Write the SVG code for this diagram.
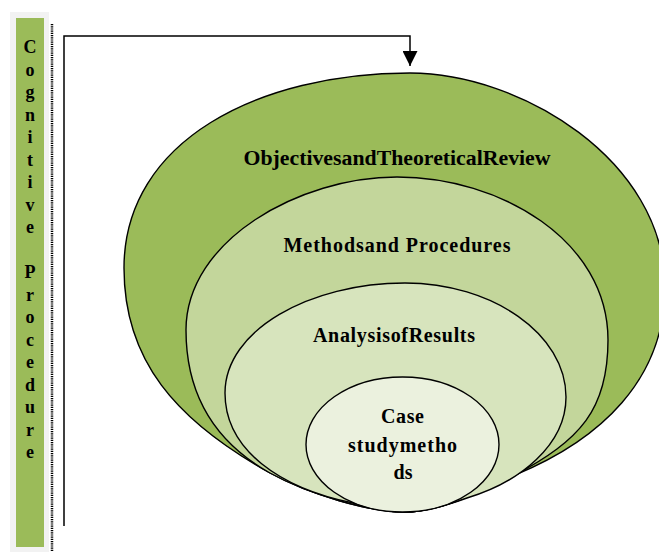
<svg xmlns="http://www.w3.org/2000/svg" width="659" height="552" viewBox="0 0 659 552">
<defs>
<style>
.shape{stroke:#000;stroke-width:1.4;stroke-linejoin:round}
.lbl{font-family:"Liberation Serif","Times New Roman",serif;font-weight:bold;font-size:20px;fill:#000;text-anchor:middle}
.bar{font-family:"Liberation Serif","Times New Roman",serif;font-weight:bold;font-size:18px;fill:#000;text-anchor:middle}
.conn{fill:none;stroke:#000;stroke-width:1.5}
</style>
<marker id="arrow" viewBox="0 0 10 10" refX="10" refY="5" markerWidth="15" markerHeight="15" markerUnits="userSpaceOnUse" orient="auto">
<path d="M0,0 L10,5 L0,10 Z" fill="#000"/>
</marker>
</defs>
<rect width="659" height="552" fill="#fff"/>
<g id="sidebar">
<rect x="10" y="12" width="39" height="540" fill="#F2F2F2"/>
<rect x="16" y="18" width="28" height="529" fill="#9BBB59"/>
<line x1="52" y1="24" x2="52" y2="552" stroke="#000" stroke-width="2.5" stroke-dasharray="1.2,1"/>
<text class="bar">
<tspan x="30" y="53">C</tspan><tspan x="30" y="75.5">o</tspan><tspan x="30" y="98">g</tspan><tspan x="30" y="120.5">n</tspan><tspan x="30" y="143">i</tspan><tspan x="30" y="165.5">t</tspan><tspan x="30" y="188">i</tspan><tspan x="30" y="210.5">v</tspan><tspan x="30" y="233">e</tspan><tspan x="30" y="278">P</tspan><tspan x="30" y="300.5">r</tspan><tspan x="30" y="323">o</tspan><tspan x="30" y="345.5">c</tspan><tspan x="30" y="368">e</tspan><tspan x="30" y="390.5">d</tspan><tspan x="30" y="413">u</tspan><tspan x="30" y="435.5">r</tspan><tspan x="30" y="458">e</tspan>
</text>
</g>
<g id="connectors">
<polyline class="conn" points="64,526 64,36 410,36 410,66" marker-end="url(#arrow)"/>
</g>
<g id="objectives">
<path class="shape" fill="#9BBB59" d="M410,73 C520,73 665,160 665,287 C665,380 600,440 515,475 C480,492 440,512 405,512 C370,512 310,495 270,473 C175,420 124,360 124,268 C124,140 260,73 410,73 Z"/>
<text class="lbl" x="397" y="165" textLength="307" lengthAdjust="spacingAndGlyphs">ObjectivesandTheoreticalReview</text>
</g>
<g id="methods">
<path class="shape" fill="#C3D69B" d="M397,177 C500,177 608,240 608,340 C608,410 580,440 515,475 C480,492 440,512 405,512 C370,512 310,495 270,473 C220,445 186,400 186,330 C186,240 300,177 397,177 Z"/>
<text class="lbl" x="397" y="252" textLength="227" lengthAdjust="spacing">Methodsand Procedures</text>
</g>
<g id="analysis">
<path class="shape" fill="#D7E4BD" d="M405,283 C492,283 566,334 566,397 C566,445 520,482 467,498 C445,506 425,512 405,512 C385,512 370,508 353,503 C280,488 225,450 225,393 C225,330 310,283 405,283 Z"/>
<text class="lbl" x="394" y="342" textLength="162" lengthAdjust="spacing">AnalysisofResults</text>
</g>
<g id="case">
<ellipse class="shape" fill="#EBF1DE" cx="402.5" cy="444.5" rx="96.5" ry="67.5"/>
<text class="lbl" x="402.5" y="423" textLength="43" lengthAdjust="spacing">Case</text>
<text class="lbl" x="402.5" y="452" textLength="109" lengthAdjust="spacing">studymetho</text>
<text class="lbl" x="403" y="479">ds</text>
</g>
</svg>
